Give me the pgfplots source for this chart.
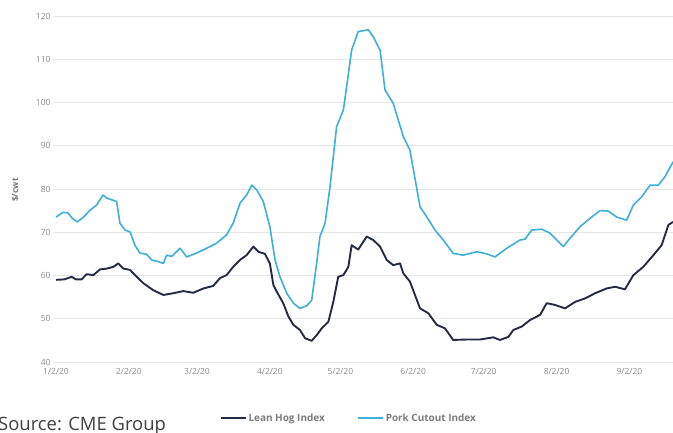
\documentclass[border=0pt]{standalone}
\usepackage{fontspec}
\setmainfont{Open Sans}
\usepackage{pgfplots}
\pgfplotsset{compat=1.18}
\definecolor{leanhog}{HTML}{232B45}
\definecolor{porkcut}{HTML}{3BB0D8}
\definecolor{gridc}{HTML}{E6E6E6}
\definecolor{tickc}{HTML}{8A8A8A}
\begin{document}
\begin{tikzpicture}
\begin{axis}[
  scale only axis,
  width=620bp, height=346bp,
  xmin=-1.28, xmax=262.55,
  ymin=40, ymax=120,
  ytick={40,50,...,120},
  xtick={0,31,60,91,121,152,182,213,244},
  xticklabels={1/2/20,2/2/20,3/2/20,4/2/20,5/2/20,6/2/20,7/2/20,8/2/20,9/2/20},
  axis line style={draw=none},
  tick style={draw=none},
  ymajorgrids,
  grid style={gridc, line width=0.8bp},
  /pgf/number format/assume math mode=true,
  tick label style={font=\fontsize{8.5}{9}\selectfont, text=tickc},
  yticklabel style={xshift=1bp},
  xticklabel style={yshift=-3bp},
  ylabel={\$/cwt},
  every axis y label/.append style={at={(axis description cs:-0.061,0.497)}, anchor=center, font=\fontsize{8.5}{9}\selectfont\bfseries, text=tickc!85!black},
  legend style={at={(0.477,-0.162)}, anchor=center, draw=none, fill=none,
    legend columns=2, font=\fontsize{10}{11}\selectfont\bfseries, text=tickc!90!black,
    /tikz/every even column/.append style={column sep=30bp}},
  legend image code/.code={\draw[#1, line width=2bp] (0bp,0bp) -- (25bp,0bp);},
  clip=true,
]
\coordinate (ll) at (rel axis cs:0,0);
\addplot[leanhog, line width=1.9bp, line join=round] coordinates {
(0,59.0)(3.5,59.1)(6.7,59.7)(8.5,59.1)(10.9,59.1)(13,60.3)(15.9,60.1)(18.7,61.4)(21.6,61.6)(24.4,62.0)(26.5,62.8)(28.6,61.6)(31.5,61.3)(33.6,60.1)(37.2,58.2)(41.4,56.6)(45.7,55.5)(49.9,55.9)(54.2,56.4)(58.4,56.0)(62.7,57.0)(66.9,57.6)(69.8,59.4)(72.6,60.1)(75.4,62.0)(78.3,63.6)(81.1,64.7)(84,66.7)(86.1,65.5)(88.9,65.0)(91,62.8)(92.5,57.8)(93.9,56.3)(96.7,53.6)(98.9,50.5)(101,48.6)(103.8,47.4)(106,45.5)(108.8,44.9)(110.9,46.2)(113.1,47.8)(115.9,49.3)(118,53.9)(120.1,59.7)(122.3,60.1)(124.4,62.0)(125.8,67.0)(128.6,66.0)(132.2,69.0)(135,68.2)(137.9,66.7)(140.7,63.6)(143.5,62.4)(146.4,62.8)(147.8,60.5)(150.6,58.6)(154.9,52.4)(158.4,51.3)(162,48.6)(165.5,47.8)(169,45.1)(174.8,45.2)(180.4,45.2)(186.1,45.7)(188.9,45.1)(192.5,45.8)(194.6,47.4)(198.2,48.2)(201.7,49.7)(206,50.9)(208.8,53.6)(212.3,53.2)(216.6,52.4)(220.9,53.9)(225.1,54.7)(229.4,55.9)(234.3,57.0)(237.9,57.4)(242.1,56.8)(245.7,60.1)(249.9,62.0)(254.2,64.7)(257.7,67.0)(260.6,71.7)(262.6,72.4)
};
\addlegendentry{Lean Hog Index}
\addplot[porkcut, line width=1.6bp, line join=round] coordinates {
(0,73.5)(3,74.6)(5,74.5)(7,73.2)(9,72.4)(11.5,73.4)(14.5,75.1)(17.3,76.3)(20,78.6)(21.6,77.9)(23.7,77.5)(25.8,77.1)(27.2,72.1)(29.4,70.5)(31.5,70.1)(33.6,67.0)(35.7,65.2)(38.6,64.9)(40.7,63.6)(43.5,63.2)(45.7,62.8)(47.1,64.7)(49.2,64.4)(52.8,66.3)(55.6,64.3)(59.9,65.2)(64.1,66.3)(68.4,67.5)(72.6,69.4)(75.4,72.1)(78.3,76.7)(81.1,78.6)(83.3,80.9)(85.4,79.8)(88.2,77.1)(91,71.3)(93.2,63.6)(95.3,59.7)(98.2,55.9)(101,53.6)(103.8,52.4)(106.7,53.0)(108.8,54.3)(110.9,62.8)(112.3,69.0)(114.5,72.1)(116.6,80.5)(119.4,94.4)(122.3,98.3)(125.8,112.1)(128.6,116.4)(132.9,116.8)(135,115.2)(137.9,112.1)(140,102.9)(143.5,99.8)(147.8,92.1)(150.6,89.0)(154.9,75.9)(157.7,73.6)(161.3,70.5)(164.8,68.2)(169,65.1)(173.3,64.7)(179,65.5)(183.3,65.0)(186.8,64.3)(191.8,66.3)(197.4,68.2)(199.6,68.4)(202.4,70.5)(206.7,70.7)(210.2,69.8)(215.9,66.7)(218.7,68.6)(223,71.3)(227.2,73.2)(231.5,75.0)(235,74.9)(238.6,73.5)(242.8,72.8)(245.7,76.3)(249.2,78.2)(252.8,80.9)(256.3,80.9)(259.1,82.8)(262.6,86.3)
};
\addlegendentry{Pork Cutout Index}
\end{axis}
\node[anchor=base west, inner sep=0pt, font=\fontsize{18.5}{20}\selectfont, text=black!75] at ([xshift=-55bp,yshift=-68bp]ll) {Source: CME Group};
\pgfresetboundingbox
\path[use as bounding box] ([xshift=-53bp,yshift=-71bp]ll) rectangle ++(673bp,433bp);
\end{tikzpicture}
\end{document}
